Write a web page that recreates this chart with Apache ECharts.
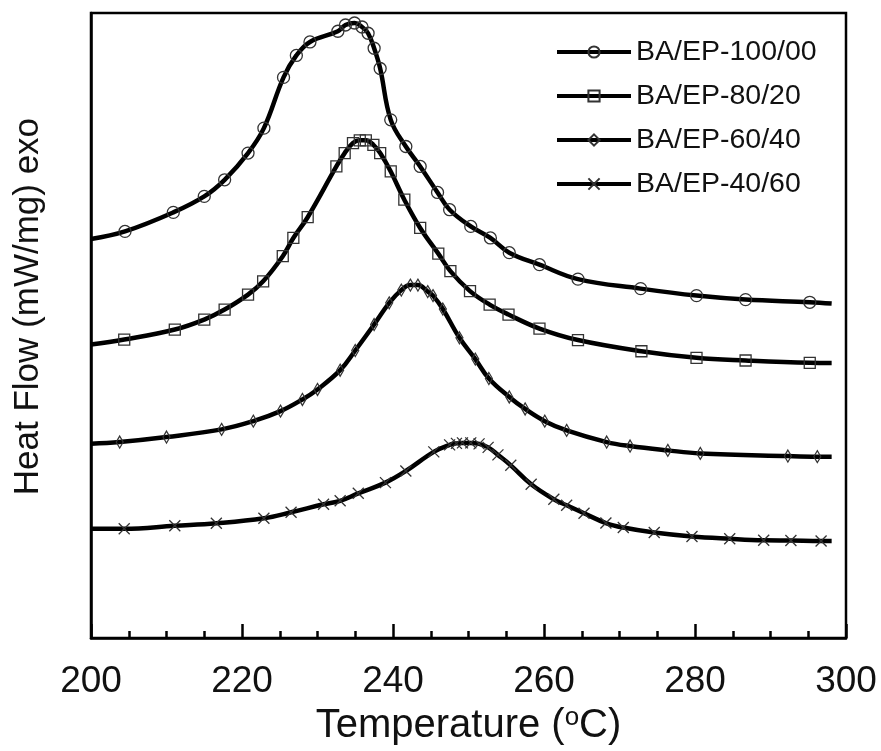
<!DOCTYPE html>
<html>
<head>
<meta charset="utf-8">
<script src="https://cdn.jsdelivr.net/npm/echarts@6/dist/echarts.min.js"></script>
<style>
html,body{margin:0;padding:0;background:#fff;}
#chart{width:881px;height:751px;}
</style>
</head>
<body>
<div id="chart"></div>
<script>
// Temperature (°C) and heat flow (arbitrary units, offset curves)
const names = ['BA/EP-100/00', 'BA/EP-80/20', 'BA/EP-60/40', 'BA/EP-40/60'];

const temp100 = [200.0,204.5,210.9,215.0,217.7,220.8,222.9,225.5,227.2,229.0,232.7,233.7,234.9,235.9,236.7,237.5,238.3,239.7,241.7,243.6,245.9,247.5,250.3,252.9,255.4,259.4,264.5,272.8,280.2,286.7,295.2,298.1];
const flow100 = [6.385,6.506,6.810,7.066,7.332,7.759,8.158,8.970,9.321,9.537,9.708,9.808,9.840,9.776,9.676,9.436,9.112,8.291,7.864,7.545,7.129,6.853,6.586,6.401,6.166,5.974,5.743,5.591,5.479,5.415,5.372,5.351];

const temp80 = [200.0,204.4,211.1,215.0,217.7,220.8,222.8,225.4,226.8,228.7,232.5,233.6,234.7,235.6,236.4,237.4,238.3,239.7,241.5,243.6,246.0,247.6,250.2,252.8,255.3,259.4,264.5,272.9,280.2,286.7,295.2,298.1];
const flow80 = [4.696,4.776,4.936,5.096,5.256,5.495,5.708,6.110,6.401,6.733,7.545,7.759,7.919,7.963,7.963,7.891,7.759,7.465,7.013,6.561,6.150,5.871,5.551,5.335,5.176,4.952,4.768,4.589,4.484,4.441,4.404,4.401];

const temp60 = [200.0,203.8,210.0,217.3,221.5,225.1,228.0,230.0,233.0,235.0,237.5,239.5,241.1,242.3,243.3,244.6,245.3,246.6,248.8,250.9,252.7,255.4,257.5,260.1,263.0,268.3,271.4,276.4,280.7,292.3,296.2,298.1];
const flow60 = [3.110,3.136,3.216,3.339,3.471,3.631,3.818,3.978,4.286,4.601,5.016,5.363,5.567,5.647,5.647,5.543,5.479,5.264,4.804,4.463,4.153,3.858,3.666,3.471,3.323,3.136,3.072,3.003,2.955,2.912,2.903,2.903];

const temp40 = [200.0,204.4,211.1,216.6,222.9,226.5,230.8,233.0,235.4,239.0,241.7,245.4,247.5,248.4,249.2,250.3,251.4,252.6,253.9,255.6,258.3,261.3,263.0,265.3,268.2,270.5,274.6,279.6,284.6,289.1,292.7,296.7,298.1];
const flow40 = [1.749,1.749,1.797,1.837,1.917,2.013,2.141,2.196,2.316,2.487,2.673,2.979,3.091,3.115,3.123,3.123,3.107,3.051,2.931,2.764,2.460,2.220,2.125,1.997,1.840,1.768,1.688,1.625,1.589,1.565,1.561,1.554,1.554];

const xTicks = [200, 220, 240, 260, 280, 300];

const symbols = ['circle', 'rect', 'diamond', 'path://M0,0L10,10M0,10L10,0'];
const symbolSizes = [12, 11, [7, 12], 11];
const temps = [temp100, temp80, temp60, temp40];
const flows = [flow100, flow80, flow60, flow40];

function buildData(t, f) {
  return t.map(function (x, i) {
    const item = { value: [x, f[i]] };
    if (i === 0 || i === t.length - 1) item.symbol = 'none';
    return item;
  });
}

const series = names.map(function (n, k) {
  return {
    name: n,
    type: 'line',
    smooth: 0.4,
    data: buildData(temps[k], flows[k]),
    symbol: symbols[k],
    symbolSize: symbolSizes[k],
    showAllSymbol: true,
    lineStyle: { color: '#000', width: 4.5 },
    itemStyle: { color: 'none', borderColor: '#333', borderWidth: 1.3 },
    emphasis: { disabled: true },
    z: 3
  };
});

const chart = echarts.init(document.getElementById('chart'), null, { renderer: 'canvas' });
chart.setOption({
  backgroundColor: '#fff',
  animation: false,
  textStyle: { fontFamily: 'Liberation Sans, Arial, sans-serif', color: '#111' },
  grid: {
    left: 91, right: 35, top: 13, bottom: 112,
    show: true, borderColor: '#000', borderWidth: 2.5, backgroundColor: 'transparent'
  },
  legend: {
    orient: 'vertical',
    left: 550, top: 32,
    itemWidth: 74, itemHeight: 14, itemGap: 14,
    lineStyle: { width: 4 },
    textStyle: { fontSize: 28.5, color: '#111', lineHeight: 30, padding: [0, 0, 0, 0], fontFamily: 'Liberation Sans, Arial, sans-serif' },
    data: names
  },
  xAxis: {
    type: 'value', min: 200, max: 300, interval: 20,
    name: 'Temperature ({s|o}C)',
    nameLocation: 'middle', nameGap: 66,
    nameTextStyle: {
      fontSize: 40, color: '#111',
      rich: { s: { fontSize: 26, verticalAlign: 'top', padding: [0, 0, 16, 0], color: '#111' } }
    },
    axisLine: { show: true, lineStyle: { color: '#000', width: 2.5 } },
    axisTick: { show: true, inside: true, length: 14, lineStyle: { color: '#000', width: 2.5 } },
    minorTick: { show: true, splitNumber: 4, length: 7, lineStyle: { color: '#000', width: 2.5 } },
    axisLabel: { fontSize: 37, color: '#111', margin: 25, formatter: function (v) { return xTicks.indexOf(v) >= 0 ? String(v) : ''; } },
    splitLine: { show: false },
    minorSplitLine: { show: false }
  },
  yAxis: {
    type: 'value', min: 0, max: 10,
    name: 'Heat Flow (mW/mg) exo',
    nameLocation: 'middle', nameGap: 45,
    nameTextStyle: { fontSize: 35, color: '#111', padding: [0, 0, 0, 38] },
    axisLine: { show: true, lineStyle: { color: '#000', width: 2.5 } },
    axisTick: { show: false },
    axisLabel: { show: false },
    splitLine: { show: false }
  },
  series: series
});
</script>
</body>
</html>
